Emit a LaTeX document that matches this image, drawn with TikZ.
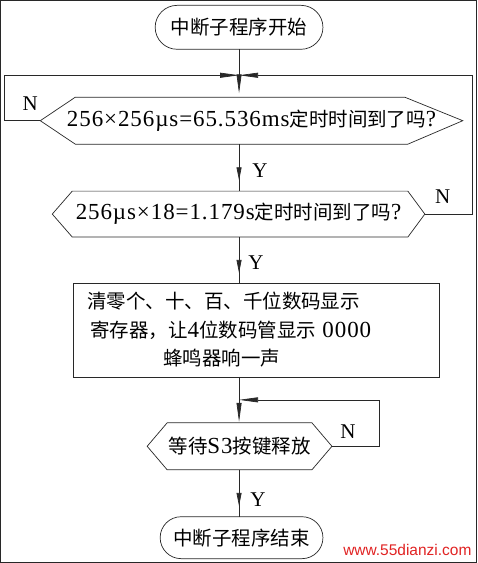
\documentclass[tikz,border=0pt]{standalone}
\usepackage{fontspec}
\setmainfont{Liberation Serif}
\newfontfamily\cjkfont{Noto Sans CJK SC}
\newfontfamily\latspfont{Liberation Serif}[LetterSpace=4]
\newfontfamily\wmfont{Liberation Sans}
\usetikzlibrary{arrows.meta,decorations.markings}
\newcommand\myzh[1]{{\cjkfont\fontsize{19.5}{28.5}\selectfont #1}}
\newcommand\mylat[1]{{\latspfont\fontsize{23}{28.5}\selectfont #1}}
\definecolor{wmred}{RGB}{225,35,35}
\definecolor{ln}{RGB}{40,40,40}
\begin{document}
\begin{tikzpicture}[x=1pt,y=-1pt,
  every node/.style={inner sep=0pt,outer sep=0pt},
  every path/.style={line width=0.7pt,draw=ln},
  term/.style={draw,rounded corners=22pt,minimum width=168pt,minimum height=44pt},
  hexnode/.style={minimum height=47pt},
  procbox/.style={draw,minimum width=367pt,minimum height=94pt,text width=339pt,align=left,
    font=\fontsize{19.5}{28.5}\selectfont},
  lbl/.style={font=\fontsize{21}{24}\selectfont},
  arr/.style={-{Triangle[length=19pt,width=5pt]}},
  midarr/.style={postaction={decorate},decoration={markings,
    mark=at position #1 with {\arrow{Triangle[length=13pt,width=5pt]}}}}
]
\fill[white] (0,0) rectangle (477,563);
\useasboundingbox (0,0) rectangle (477,563);

% nodes
\node[term] (start) at (239,27) {\myzh{中断子程序开始}};

\node[hexnode,minimum width=423pt] (h1) at (251.5,120.5)
  {\mylat{256×256µs=65.536ms}\myzh{定时时间到了吗}\mylat{?}};
\draw (h1.west) -- ([xshift=35pt]h1.north west) -- ([xshift=-58pt]h1.north east)
  -- (h1.east) -- ([xshift=-55pt]h1.south east) -- ([xshift=35pt]h1.south west) -- cycle;

\node[hexnode,minimum width=373pt,minimum height=46pt] (h2) at (238.5,214)
  {\mylat{256µs×18=1.179s}\myzh{定时时间到了吗}\mylat{?}};
\draw (h2.west) -- ([xshift=20pt]h2.north west) -- ([xshift=-17pt]h2.north east)
  -- (h2.east) -- ([xshift=-17pt]h2.south east) -- ([xshift=20pt]h2.south west) -- cycle;

\node[procbox] (box) at (256.5,330)
  {\myzh{清零个、十、百、千位数码显示}\\
   \hspace*{3pt}\myzh{寄存器，让}\mylat{4}\myzh{位数码管显示}\mylat{ 0000}\\
   \hspace*{76pt}\myzh{蜂鸣器响一声}};

\node[hexnode,minimum width=185pt] (h3) at (239.5,446.5)
  {\myzh{等待}\mylat{S3}\myzh{按键释放}};
\draw (h3.west) -- ([xshift=20pt]h3.north west) -- ([xshift=-20pt]h3.north east)
  -- (h3.east) -- ([xshift=-20pt]h3.south east) -- ([xshift=20pt]h3.south west) -- cycle;

\node[term,minimum width=163pt,minimum height=42pt,rounded corners=21pt] (end) at (241.5,538)
  {\myzh{中断子程序结束}};

% labels
\node[lbl] (n1) at (30,103) {N};
\node[lbl] (y1) at (260,170) {Y};
\node[lbl] (n2) at (443,197) {N};
\node[lbl] (y2) at (256,263) {Y};
\node[lbl] (n3) at (348,432) {N};
\node[lbl] (y3) at (258,500) {Y};

\node[text=wmred,font=\wmfont\fontsize{15.5}{18}\selectfont] (wm) at (407.5,550) {www.55dianzi.com};

% connectors
\coordinate (j1) at (239,75);
\coordinate (j2) at (239,400);
\draw (start.south) -- (j1);
\draw[arr,shorten >=4pt] (j1) -- (j1 |- h1.north);
\draw[arr] (h1.west) -- ++(-36,0) |- (j1);
\draw[arr] (h2.east) -- ++(48,0) |- (j1);
\draw[midarr=0.77] (j1 |- h1.south) -- (j1 |- h2.north);
\draw[midarr=0.78] (j1 |- h2.south) -- (j1 |- box.north);
\draw (j1 |- box.south) -- (j2);
\draw[arr,shorten >=1pt] (j2) -- (j2 |- h3.north);
\draw[arr] (h3.east) -- ++(47,0) |- (j2);
\draw[midarr=0.77] (j2 |- h3.south) -- (j2 |- end.north);
\end{tikzpicture}
\end{document}
